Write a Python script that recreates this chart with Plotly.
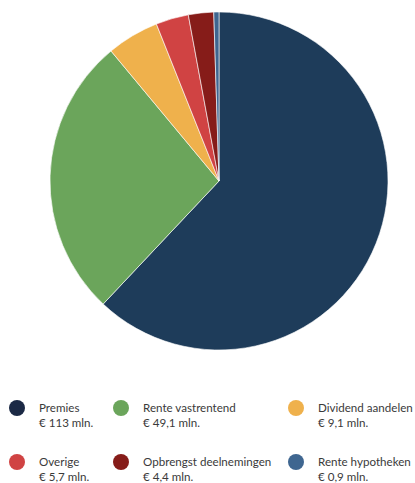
import plotly.graph_objects as go

labels = ["Premies", "Rente vastrentend", "Dividend aandelen", "Overige", "Opbrengst deelnemingen", "Rente hypotheken"]
values = [113, 49.1, 9.1, 5.7, 4.4, 0.9]
value_texts = ["€ 113 mln.", "€ 49,1 mln.", "€ 9,1 mln.", "€ 5,7 mln.", "€ 4,4 mln.", "€ 0,9 mln."]
pie_colors = ["#1e3c5a", "#6ba55b", "#efb14c", "#d04343", "#861c19", "#3f6690"]
legend_colors = ["#1b2945", "#6ba55b", "#efb14c", "#d04343", "#861c19", "#3f6690"]

W, H = 415, 483
cx, cy, r = 219, 181, 169

fig = go.Figure()
fig.add_trace(go.Pie(
    labels=labels, values=values, sort=False, direction="clockwise", rotation=0,
    marker=dict(colors=pie_colors, line=dict(color="white", width=0.6)),
    textinfo="none", hoverinfo="label+value", showlegend=False,
    domain=dict(x=[(cx - r) / W, (cx + r) / W], y=[1 - (cy + r) / H, 1 - (cy - r) / H]),
))

col_dot_x = [17, 121, 296]
col_text_x = [37, 141, 316]
row_dot_y = [408, 462]

dx, dy = [], []
for i, lab in enumerate(labels):
    c, rr = i % 3, i // 3
    dx.append(col_dot_x[c])
    dy.append(row_dot_y[rr])
    fig.add_annotation(
        x=col_text_x[c], y=row_dot_y[rr] + 7, xref="x", yref="y",
        text=f"{lab}<br>{value_texts[i]}", showarrow=False,
        xanchor="left", yanchor="middle", align="left",
        font=dict(family="Lato", size=11.6, color="#3a3a3a"),
    )

fig.add_trace(go.Scatter(
    x=dx, y=dy, mode="markers", showlegend=False, hoverinfo="skip",
    marker=dict(size=16, color=legend_colors, line=dict(width=0)),
))

fig.update_layout(
    width=W, height=H, margin=dict(l=0, r=0, t=0, b=0),
    paper_bgcolor="white", plot_bgcolor="rgba(0,0,0,0)",
    xaxis=dict(range=[0, W], visible=False, fixedrange=True),
    yaxis=dict(range=[H, 0], visible=False, fixedrange=True),
)
fig.write_html("out.html", config={"displayModeBar": False},
               post_script="document.body.style.margin='0';document.body.style.overflow='hidden';")
